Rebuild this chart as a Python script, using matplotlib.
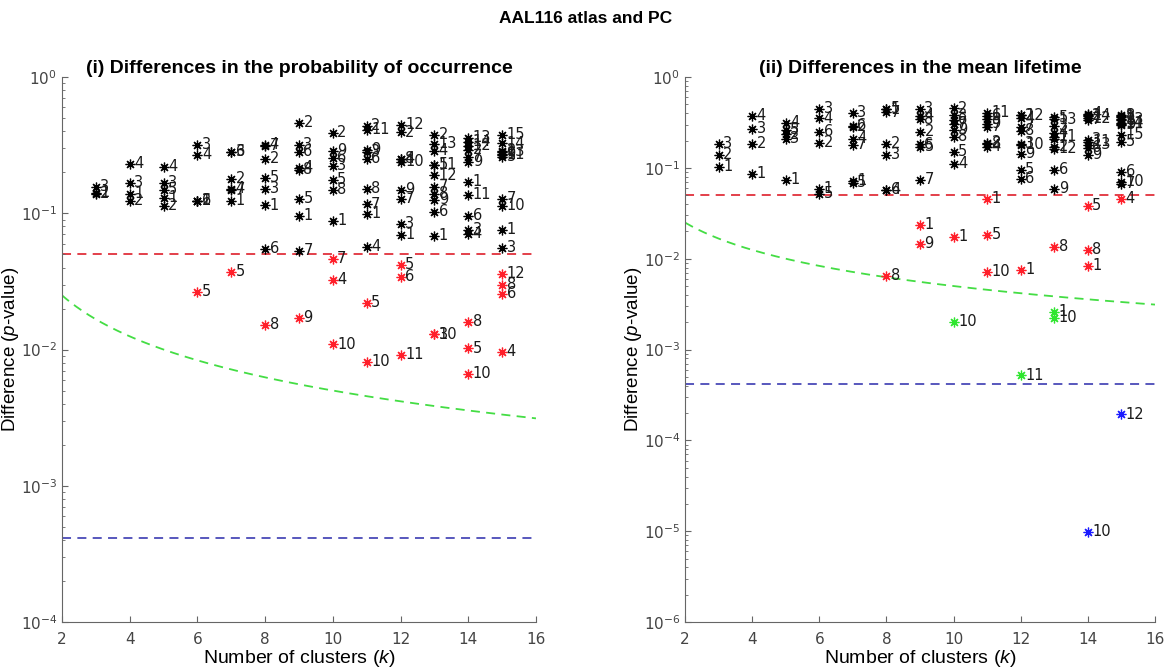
import numpy as np
import matplotlib
matplotlib.use("Agg")
import matplotlib.pyplot as plt
from matplotlib.ticker import LogLocator, NullFormatter, FixedLocator

plt.rcParams['font.family'] = ['Liberation Sans', 'DejaVu Sans']
plt.rcParams['mathtext.fontset'] = 'custom'
plt.rcParams['mathtext.it'] = 'Liberation Sans:italic'
plt.rcParams['mathtext.rm'] = 'Liberation Sans'

# number of clusters for each column of results
k_values = list(range(3, 16))

# (i) probability of occurrence: cluster index and p-value per k
occ_labels = [
    [3, 1, 2],
    [4, 3, 1, 2],
    [4, 3, 5, 1, 2],
    [3, 4, 1, 2, 6, 5],
    [3, 6, 2, 4, 7, 1, 5],
    [4, 7, 2, 5, 3, 1, 6, 8],
    [2, 3, 6, 4, 8, 5, 1, 7, 9],
    [2, 9, 6, 3, 5, 8, 1, 7, 4, 10],
    [2, 11, 9, 3, 6, 8, 7, 1, 4, 5, 10],
    [12, 2, 4, 8, 10, 9, 7, 3, 1, 5, 6, 11],
    [2, 13, 4, 5, 11, 12, 7, 8, 9, 6, 1, 3, 10],
    [13, 14, 12, 2, 7, 9, 1, 11, 6, 3, 4, 8, 5, 10],
    [15, 14, 2, 13, 9, 11, 5, 7, 10, 1, 3, 12, 8, 6, 4],
]
occ_pvals = [
    [0.156, 0.141, 0.139],
    [0.231, 0.167, 0.139, 0.124],
    [0.219, 0.167, 0.149, 0.130, 0.114],
    [0.318, 0.268, 0.124, 0.124, 0.124, 0.0266],
    [0.282, 0.282, 0.179, 0.151, 0.149, 0.124, 0.0373],
    [0.318, 0.312, 0.251, 0.182, 0.151, 0.115, 0.0550, 0.0152],
    [0.460, 0.318, 0.282, 0.216, 0.208, 0.128, 0.0959, 0.0531, 0.0171],
    [0.389, 0.287, 0.255, 0.223, 0.176, 0.149, 0.0881, 0.0464, 0.0326, 0.0109],
    [0.438, 0.409, 0.292, 0.282, 0.251, 0.151, 0.117, 0.0991, 0.0568, 0.0221, 0.00816],
    [0.445, 0.395, 0.251, 0.251, 0.238, 0.149, 0.128, 0.0838, 0.0696, 0.0420, 0.0343, 0.00919],
    [0.376, 0.323, 0.287, 0.227, 0.227, 0.191, 0.156, 0.139, 0.126, 0.103, 0.0685, 0.0129, 0.0129],
    [0.357, 0.334, 0.312, 0.292, 0.259, 0.238, 0.170, 0.137, 0.0959, 0.0757, 0.0708, 0.0160, 0.0102, 0.00667],
    [0.376, 0.328, 0.287, 0.282, 0.273, 0.268, 0.259, 0.128, 0.114, 0.0757, 0.0559, 0.0360, 0.0299, 0.0257, 0.00967],
]

# (ii) mean lifetime: cluster index and p-value per k
life_labels = [
    [3, 2, 1],
    [4, 3, 2, 1],
    [4, 5, 2, 3, 1],
    [3, 4, 6, 2, 1, 5],
    [3, 6, 2, 4, 7, 1, 5],
    [5, 1, 7, 2, 3, 6, 4, 8],
    [3, 4, 8, 2, 6, 5, 7, 1, 9],
    [2, 3, 6, 7, 9, 8, 5, 4, 1, 10],
    [11, 6, 3, 9, 7, 2, 8, 4, 1, 5, 10],
    [2, 12, 4, 7, 8, 3, 10, 9, 5, 6, 1, 11],
    [5, 13, 3, 4, 11, 7, 2, 12, 6, 9, 8, 1, 10],
    [4, 14, 2, 12, 7, 3, 11, 13, 6, 9, 5, 8, 1, 10],
    [8, 1, 2, 3, 13, 14, 11, 9, 15, 5, 6, 10, 7, 4, 12],
]
life_pvals = [
    [0.184, 0.139, 0.103],
    [0.373, 0.268, 0.184, 0.0859],
    [0.312, 0.262, 0.236, 0.208, 0.0738],
    [0.445, 0.354, 0.249, 0.188, 0.0588, 0.0518],
    [0.402, 0.290, 0.282, 0.208, 0.179, 0.0720, 0.0684],
    [0.445, 0.440, 0.412, 0.184, 0.139, 0.0573, 0.0573, 0.0065],
    [0.445, 0.373, 0.345, 0.249, 0.182, 0.170, 0.0738, 0.0237, 0.0146],
    [0.456, 0.382, 0.337, 0.305, 0.262, 0.219, 0.150, 0.111, 0.0175, 0.00203],
    [0.402, 0.373, 0.345, 0.305, 0.282, 0.188, 0.184, 0.170, 0.046, 0.0184, 0.00719],
    [0.382, 0.382, 0.354, 0.282, 0.255, 0.184, 0.179, 0.143, 0.0951, 0.0757, 0.00757, 0.000518],
    [0.363, 0.345, 0.290, 0.243, 0.219, 0.208, 0.170, 0.162, 0.0951, 0.0588, 0.0136, 0.00262, 0.00225],
    [0.392, 0.382, 0.373, 0.354, 0.337, 0.203, 0.193, 0.179, 0.166, 0.139, 0.0382, 0.0126, 0.00838, 0.0000098],
    [0.382, 0.373, 0.363, 0.345, 0.337, 0.312, 0.305, 0.297, 0.231, 0.193, 0.0904, 0.0702, 0.0667, 0.046, 0.000193],
]

alpha = 0.05          # uncorrected threshold
n_tests = 120         # total number of comparisons (Bonferroni over all k)

RED, GREEN, BLUE = '#ff1f2a', '#2ee62e', '#1a1aff'


def point_colour(p, k):
    if p >= alpha:
        return 'black'
    if p >= alpha / k:
        return RED
    if p >= alpha / n_tests:
        return GREEN
    return BLUE


def draw_panel(ax, labels, pvals, ymin, title):
    kk = np.linspace(2, 16, 300)
    dash = (0, (5, 3.5))
    ax.plot([2, 16], [alpha, alpha], ls=dash, color='#e0303c', lw=1.3, zorder=1)
    ax.plot(kk, alpha / kk, ls=dash, color='#44dd44', lw=1.3, zorder=1)
    ax.plot([2, 16], [alpha / n_tests] * 2, ls=dash, color='#4a4ab8', lw=1.3, zorder=1)

    for k, labs, ps in zip(k_values, labels, pvals):
        for lab, p in zip(labs, ps):
            c = point_colour(p, k)
            ax.plot(k, p, marker=(8, 2, 0), ms=7, mew=0.9, color=c,
                    linestyle='none', zorder=3)
            ax.text(k + 0.13, p, str(lab), fontsize=10.5, ha='left', va='center',
                    color='#1a1a1a', family='DejaVu Sans', zorder=4)

    ax.set_yscale('log')
    ax.set_xlim(2, 16)
    ax.set_ylim(ymin, 1)
    ax.xaxis.set_major_locator(FixedLocator(list(range(2, 17, 2))))
    ax.yaxis.set_major_locator(LogLocator(base=10, numticks=20))
    ax.yaxis.set_minor_locator(LogLocator(base=10, subs=np.arange(2, 10), numticks=20))
    ax.yaxis.set_minor_formatter(NullFormatter())
    for s in ('top', 'right'):
        ax.spines[s].set_visible(False)
    for s in ('left', 'bottom'):
        ax.spines[s].set_color('#666666')
        ax.spines[s].set_linewidth(0.8)
    ax.tick_params(which='both', direction='in', colors='#666666', labelcolor='#444444',
                   labelsize=11)
    ax.tick_params(axis='x', pad=7)
    ax.tick_params(which='major', length=4)
    ax.tick_params(which='minor', length=2)
    for lab in ax.get_yticklabels() + ax.get_xticklabels():
        lab.set_family('DejaVu Sans')
    ax.set_xlabel(r'Number of clusters ($\mathit{k}$)', fontsize=14, labelpad=1)
    ax.set_ylabel(r'Difference ($\mathit{p}$-value)', fontsize=13.5, labelpad=0)
    ax.set_title(title, fontsize=14, fontweight='bold', pad=2)


fig = plt.figure(figsize=(11.72, 6.70), dpi=100)
ax1 = fig.add_axes([0.0529, 0.0716, 0.4044, 0.8134])
ax2 = fig.add_axes([0.5845, 0.0716, 0.4010, 0.8134])

draw_panel(ax1, occ_labels, occ_pvals, 1e-4,
           '(i) Differences in the probability of occurrence')
draw_panel(ax2, life_labels, life_pvals, 1e-6,
           '(ii) Differences in the mean lifetime')

fig.text(0.5, 0.972, 'AAL116 atlas and PC', ha='center', va='center',
         fontsize=12.5, fontweight='bold')

fig.savefig('out.png', dpi=100)
